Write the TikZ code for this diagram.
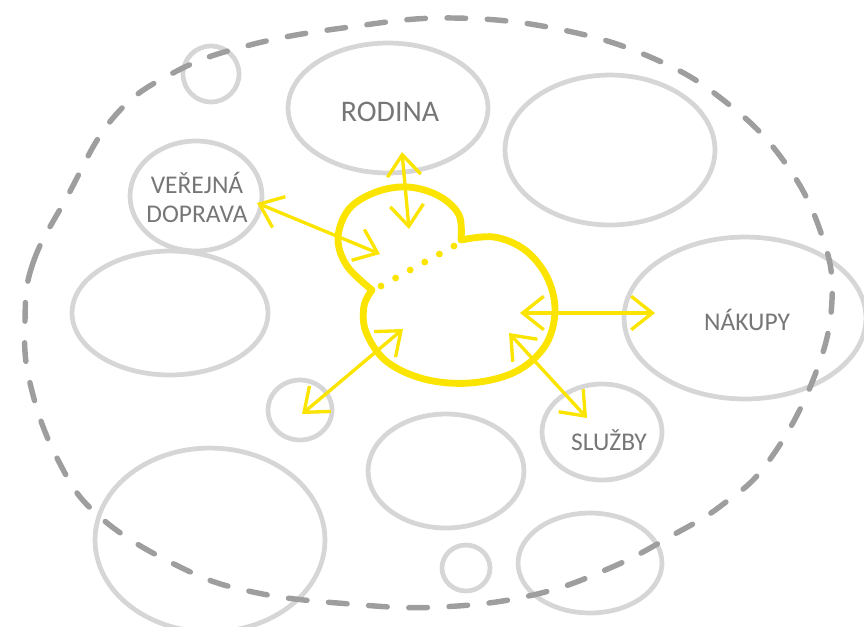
\documentclass[tikz,border=0pt]{standalone}
\usepackage{fontspec}
\setmainfont{Carlito}
\usetikzlibrary{shapes.geometric,arrows.meta}
\definecolor{sediva}{RGB}{214,214,214}
\definecolor{hranice}{RGB}{158,158,158}
\definecolor{zluta}{RGB}{250,228,0}
\definecolor{popis}{RGB}{118,118,118}
\tikzset{
  bublina/.style={draw=sediva,line width=2.7pt,ellipse,inner sep=0pt},
  rozmer/.style 2 args={minimum width=#1*0.04cm,minimum height=#2*0.04cm},
  popisek/.style={text=popis,font=\fontsize{14.5}{16.5}\selectfont,align=center,inner sep=0pt},
  vazba/.style={zluta,line width=1.9pt,{Straight Barb[length=12pt,width=19pt]}-{Straight Barb[length=12pt,width=19pt]}}
}
\begin{document}
\begin{tikzpicture}[x=0.02cm,y=-0.02cm]
\useasboundingbox (0,0) rectangle (864,626);
% bubliny
\node[bublina,rozmer={28}{28}] (malaA) at (211,74) {};
\node[bublina,rozmer={100}{65}] (rodina) at (388,108) {};
\node[bublina,rozmer={105}{75}] (vpravoNahore) at (610,150) {};
\node[bublina,rozmer={66}{55}] (doprava) at (196,196) {};
\node[bublina,rozmer={98}{62}] (vlevo) at (170,313) {};
\node[bublina,rozmer={121}{81}] (nakupy) at (745,318) {};
\node[bublina,rozmer={32}{30}] (malaB) at (300,410) {};
\node[bublina,rozmer={60}{48}] (sluzby) at (602,432) {};
\node[bublina,rozmer={78}{57}] (stred) at (446,471) {};
\node[bublina,rozmer={115}{92}] (vlevoDole) at (210,540) {};
\node[bublina,rozmer={24}{23}] (malaC) at (466,568) {};
\node[bublina,rozmer={72}{50}] (vpravoDole) at (590,563) {};
% okoli
\draw[hranice,line width=3.1pt,line cap=round,dash pattern=on 10.6pt off 12.3pt]
  plot[smooth cycle,tension=0.7] coordinates {(25,320) (33,263) (67,197) (113,118) (173,73) (250,45) (350,27) (453,18) (563,30) (657,60) (727,103) (783,160) (820,230) (832,300) (813,380) (768,462) (722,505) (673,535) (610,568) (533,595) (440,607) (350,604) (253,592) (180,567) (100,517) (58,460) (30,383)};
% popisky
\node[popisek,font=\fontsize{17}{19}\selectfont] (rodinaText) at (390,112) {RODINA};
\node[popisek] (dopravaText) at (197,197) {VEŘEJNÁ\\DOPRAVA};
\node[popisek] (nakupyText) at (747,320) {NÁKUPY};
\node[popisek] (sluzbyText) at (609,440) {SLUŽBY};
% ja
\draw[zluta,line width=3.9pt,line join=round]
  plot[smooth,tension=0.6] coordinates {(372,290) (347,266) (338,238) (349,209) (376,192) (408,187) (439,196) (459,215) (461,240)}
  -- plot[smooth,tension=0.6] coordinates {(461,240) (494,237) (525,250) (547,277) (555,311) (545,346) (515,372) (470,383) (424,379) (386,361) (366,332) (364,306) (372,290)}
  -- cycle;
\draw[zluta,line width=3.9pt,line cap=round,dash pattern=on 0pt off 9.47pt] (381,286) -- (454,246);
% vazby
\coordinate (r1) at (409,229); \coordinate (r2) at (402,152);
\coordinate (d1) at (380,254); \coordinate (d2) at (257,203);
\coordinate (n1) at (520,313); \coordinate (n2) at (655,313);
\coordinate (s1) at (509,333); \coordinate (s2) at (587,418);
\coordinate (m1) at (403,329); \coordinate (m2) at (302,414);
\draw[vazba] (r1) -- (r2);
\draw[vazba] (d1) -- (d2);
\draw[vazba] (n1) -- (n2);
\draw[vazba] (s1) -- (s2);
\draw[vazba] (m1) -- (m2);
\end{tikzpicture}
\end{document}
